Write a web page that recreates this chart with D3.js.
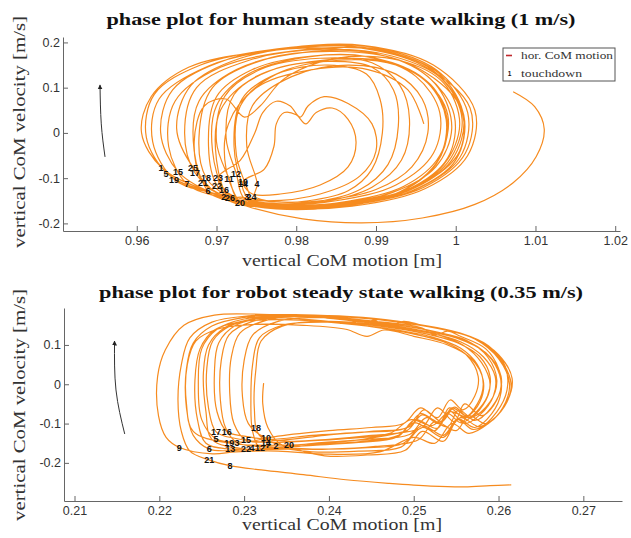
<!DOCTYPE html>
<html><head><meta charset="utf-8">
<script src="https://cdn.jsdelivr.net/npm/d3@7"></script>
<style>body{margin:0;background:#fff}svg{display:block}</style>
</head><body><svg id="c" width="631" height="538"></svg>
<script>
const humanTitle = "phase plot for human steady state walking (1 m/s)";
const robotTitle = "phase plot for robot steady state walking (0.35 m/s)";
const xLabelText = "vertical CoM motion [m]";
const yLabelText = "vertical CoM velocity [m/s]";
const legendLabels = ["hor. CoM motion", "touchdown"];

const humanXTicks = [0.96, 0.97, 0.98, 0.99, 1, 1.01, 1.02];
const humanYTicks = [-0.2, -0.1, 0, 0.1, 0.2];
const robotXTicks = [0.21, 0.22, 0.23, 0.24, 0.25, 0.26, 0.27];
const robotYTicks = [-0.2, -0.1, 0, 0.1];

// human trajectory: [vertical CoM position (m), vertical CoM velocity (m/s)]
const humanTrajectory = [
 [1.0072,0.091],[1.0099,0.058],[1.0111,0.008],[1.0101,-0.052],[1.0072,-0.110],[1.0024,-0.158],[0.9958,-0.188],[0.9882,-0.199],[0.9808,-0.190],[0.9745,-0.166],[0.9690,-0.130],
 [0.9632,-0.078],[0.9606,0.000],[0.9618,0.080],[0.9665,0.145],[0.9750,0.178],[0.9850,0.186],[0.9945,0.150],[1.0005,0.060],[1.0005,-0.040],[0.9955,-0.115],[0.9860,-0.155],[0.9760,-0.158],[0.9690,-0.130],
 [0.9640,-0.092],[0.9612,-0.010],[0.9622,0.085],[0.9680,0.150],[0.9775,0.185],[0.9870,0.190],[0.9960,0.148],[1.0018,0.055],[1.0012,-0.045],[0.9960,-0.120],[0.9865,-0.160],[0.9765,-0.163],[0.9700,-0.135],
 [0.9648,-0.104],[0.9620,-0.020],[0.9628,0.075],[0.9690,0.148],[0.9790,0.188],[0.9885,0.193],[0.9972,0.150],[1.0024,0.050],[1.0015,-0.050],[0.9962,-0.123],[0.9870,-0.162],[0.9770,-0.165],[0.9705,-0.140],
 [0.9652,-0.086],[0.9630,0.000],[0.9645,0.095],[0.9710,0.160],[0.9810,0.192],[0.9900,0.188],[0.9975,0.140],[1.0015,0.045],[1.0005,-0.055],[0.9950,-0.125],[0.9860,-0.160],[0.9765,-0.162],[0.9700,-0.140],
 [0.9663,-0.113],[0.9640,-0.030],[0.9648,0.070],[0.9705,0.145],[0.9800,0.182],[0.9895,0.185],[0.9970,0.140],[1.0010,0.040],[1.0000,-0.060],[0.9945,-0.128],[0.9855,-0.162],[0.9770,-0.165],[0.9715,-0.150],
 [0.9671,-0.077],[0.9650,0.010],[0.9668,0.105],[0.9730,0.165],[0.9830,0.192],[0.9915,0.180],[0.9980,0.130],[1.0010,0.035],[0.9995,-0.060],[0.9940,-0.128],[0.9850,-0.158],[0.9765,-0.160],[0.9710,-0.140],
 [0.9673,-0.088],[0.9660,0.000],[0.9675,0.100],[0.9740,0.160],[0.9835,0.185],[0.9920,0.170],[0.9982,0.120],[1.0008,0.030],[0.9990,-0.065],[0.9935,-0.130],[0.9845,-0.160],[0.9765,-0.160],[0.9712,-0.140],
 [0.9683,-0.110],[0.9672,-0.020],[0.9685,0.060],[0.9712,0.075],[0.9735,0.035],[0.9755,0.060],[0.9785,0.120],[0.9850,0.165],[0.9930,0.160],[0.9985,0.110],[1.0005,0.020],[0.9985,-0.070],[0.9930,-0.132],[0.9840,-0.160],[0.9760,-0.158],[0.9715,-0.140],
 [0.9687,-0.099],[0.9678,-0.010],[0.9695,0.100],[0.9760,0.162],[0.9850,0.180],[0.9930,0.160],[0.9978,0.100],[0.9995,0.010],[0.9975,-0.075],[0.9920,-0.132],[0.9835,-0.158],[0.9760,-0.158],[0.9718,-0.140],
 [0.9702,-0.099],[0.9730,-0.060],[0.9748,0.000],[0.9758,0.045],[0.9775,0.070],[0.9792,0.060],[0.9805,0.035],[0.9815,0.060],[0.9835,0.080],[0.9865,0.065],[0.9895,0.020],[0.9900,-0.040],[0.9880,-0.095],[0.9830,-0.135],[0.9760,-0.150],[0.9720,-0.140],
 [0.9701,-0.117],[0.9690,-0.030],[0.9700,0.080],[0.9745,0.140],[0.9820,0.170],[0.9900,0.165],[0.9960,0.120],[0.9990,0.040],[0.9980,-0.050],[0.9935,-0.118],[0.9850,-0.155],[0.9770,-0.160],[0.9705,-0.145],
 [0.9689,-0.128],[0.9672,-0.040],[0.9678,0.070],[0.9725,0.140],[0.9810,0.178],[0.9900,0.175],[0.9965,0.125],[0.9998,0.040],[0.9990,-0.055],[0.9940,-0.125],[0.9855,-0.160],[0.9775,-0.165],[0.9728,-0.150],
 [0.9716,-0.102],[0.9700,-0.020],[0.9710,0.080],[0.9755,0.140],[0.9830,0.165],[0.9895,0.155],[0.9930,0.105],[0.9942,0.030],[0.9932,-0.060],[0.9895,-0.120],[0.9835,-0.152],[0.9775,-0.158],[0.9730,-0.145],
 [0.9710,-0.126],[0.9695,-0.040],[0.9700,0.060],[0.9740,0.130],[0.9815,0.168],[0.9890,0.168],[0.9950,0.125],[0.9980,0.045],[0.9972,-0.045],[0.9925,-0.115],[0.9850,-0.150],[0.9780,-0.158],[0.9735,-0.145],
 [0.9725,-0.091],[0.9712,-0.010],[0.9722,0.085],[0.9768,0.138],[0.9840,0.158],[0.9895,0.145],[0.9922,0.095],[0.9928,0.015],[0.9915,-0.070],[0.9880,-0.125],[0.9825,-0.152],[0.9775,-0.156],[0.9740,-0.145],
 [0.9733,-0.108],[0.9760,-0.080],[0.9772,-0.030],[0.9775,0.020],[0.9785,0.045],[0.9800,0.040],[0.9812,0.020],[0.9825,0.045],[0.9845,0.055],[0.9865,0.030],[0.9875,-0.020],[0.9865,-0.075],[0.9830,-0.115],[0.9780,-0.135],[0.9745,-0.135],
 [0.9733,-0.113],[0.9722,-0.030],[0.9732,0.075],[0.9775,0.130],[0.9840,0.150],[0.9888,0.130],[0.9905,0.075],[0.9908,0.000],[0.9895,-0.080],[0.9865,-0.128],[0.9815,-0.150],[0.9775,-0.152],[0.9748,-0.140],
 [0.9751,-0.113],[0.9738,-0.030],[0.9745,0.060],[0.9795,0.125],[0.9865,0.150],[0.9925,0.130],[0.9958,0.075],[0.9965,0.000],[0.9945,-0.075],[0.9900,-0.125],[0.9830,-0.150],[0.9770,-0.152],[0.9730,-0.142],
 [0.9716,-0.144],[0.9700,-0.060],[0.9705,0.050],[0.9750,0.125],[0.9830,0.160],[0.9910,0.158],[0.9965,0.110],[0.9988,0.030],[0.9978,-0.060],[0.9930,-0.130],[0.9850,-0.162],[0.9780,-0.165],[0.9742,-0.150],
 [0.9742,-0.141],[0.9725,-0.050],[0.9730,0.060],[0.9775,0.130],[0.9850,0.160],[0.9925,0.150],[0.9972,0.100],[0.9990,0.015],[0.9975,-0.070],[0.9925,-0.135],[0.9845,-0.165],[0.9775,-0.168],[0.9735,-0.158],
 [0.9730,-0.155],[0.9712,-0.080],[0.9715,0.020],[0.9750,0.100],[0.9820,0.140],[0.9890,0.140],[0.9940,0.095],[0.9960,0.020]
];

const humanTouchdowns = [
 ["1",0.96305,-0.0773],["5",0.96367,-0.0906],["15",0.96518,-0.0862],["19",0.96468,-0.1039],
 ["25",0.96706,-0.0773],["17",0.96731,-0.0884],["7",0.96631,-0.1127],["18",0.96869,-0.0994],
 ["21",0.96832,-0.1105],["23",0.97020,-0.0994],["11",0.97158,-0.1017],["12",0.97246,-0.0906],
 ["22",0.97007,-0.1171],["6",0.96894,-0.1282],["16",0.97095,-0.1260],["10",0.97333,-0.1083],
 ["14",0.97333,-0.1127],["4",0.97509,-0.1127],["2",0.97090,-0.1420],["26",0.97170,-0.1436],
 ["3",0.97380,-0.1414],["24",0.97440,-0.1414],["20",0.97296,-0.1547]
];

// robot trajectory: [vertical CoM position (m), vertical CoM velocity (m/s)]
const robotTrajectory = [
 [0.2615,-0.256],[0.2590,-0.258],[0.2560,-0.261],[0.2520,-0.259],[0.2470,-0.252],[0.2420,-0.243],[0.2370,-0.230],[0.2320,-0.218],[0.2283,-0.207],[0.2259,-0.193],[0.2236,-0.170],[0.2226,-0.120],[0.2222,-0.040],[0.2226,0.050],[0.2236,0.118],[0.2262,0.158],[0.2305,0.174],[0.2365,0.176],[0.2430,0.166],[0.2480,0.152],[0.2525,0.134],[0.2562,0.112],[0.2587,0.070],[0.2598,0.010],[0.2590,-0.045],[0.2567,-0.085],[0.2542,-0.070],[0.2522,-0.105],[0.2497,-0.090],[0.2472,-0.125],[0.2422,-0.138],[0.2372,-0.145],[0.2330,-0.148],
 [0.2290,-0.138],[0.2267,-0.121],[0.2258,-0.060],[0.2256,0.040],[0.2263,0.110],[0.2285,0.150],[0.2320,0.168],[0.2380,0.164],[0.2440,0.150],[0.2495,0.130],[0.2535,0.108],[0.2562,0.075],[0.2576,0.020],[0.2572,-0.030],[0.2558,-0.065],[0.2543,-0.040],[0.2528,-0.085],[0.2508,-0.060],[0.2488,-0.100],[0.2450,-0.110],[0.2400,-0.118],[0.2340,-0.132],
 [0.2300,-0.147],[0.2267,-0.139],[0.2250,-0.090],[0.2246,0.000],[0.2250,0.090],[0.2268,0.140],[0.2300,0.166],[0.2360,0.174],[0.2420,0.168],[0.2438,0.152],[0.2455,0.164],[0.2490,0.155],[0.2535,0.140],[0.2572,0.115],[0.2600,0.065],[0.2613,0.000],[0.2605,-0.060],[0.2588,-0.100],[0.2565,-0.125],[0.2545,-0.100],[0.2525,-0.150],[0.2500,-0.135],[0.2460,-0.172],[0.2400,-0.178],[0.2340,-0.170],
 [0.2290,-0.172],[0.2263,-0.177],[0.2224,-0.161],[0.2208,-0.135],[0.2199,-0.080],[0.2198,0.020],[0.2207,0.087],[0.2229,0.150],[0.2265,0.176],[0.2320,0.178],[0.2380,0.172],[0.2440,0.158],[0.2500,0.140],[0.2550,0.118],[0.2585,0.080],[0.2603,0.020],[0.2598,-0.040],[0.2580,-0.080],[0.2560,-0.050],[0.2548,-0.095],[0.2528,-0.060],[0.2510,-0.110],[0.2480,-0.125],[0.2440,-0.140],[0.2390,-0.150],[0.2345,-0.155],
 [0.2283,-0.150],[0.2240,-0.120],[0.2232,-0.050],[0.2233,0.050],[0.2243,0.110],[0.2268,0.140],[0.2310,0.152],[0.2370,0.150],[0.2420,0.140],[0.2445,0.122],[0.2465,0.138],[0.2500,0.122],[0.2540,0.100],[0.2568,0.065],[0.2582,0.010],[0.2578,-0.045],[0.2563,-0.080],[0.2545,-0.060],[0.2532,-0.098],[0.2508,-0.075],[0.2490,-0.112],[0.2440,-0.122],[0.2380,-0.130],[0.2330,-0.140],
 [0.2300,-0.132],[0.2280,-0.121],[0.2268,-0.070],[0.2265,0.030],[0.2270,0.105],[0.2290,0.150],[0.2330,0.172],[0.2390,0.174],[0.2450,0.166],[0.2470,0.148],[0.2488,0.160],[0.2510,0.150],[0.2555,0.130],[0.2588,0.098],[0.2608,0.045],[0.2610,-0.015],[0.2598,-0.070],[0.2578,-0.108],[0.2555,-0.085],[0.2535,-0.135],[0.2510,-0.110],[0.2485,-0.160],[0.2435,-0.170],[0.2380,-0.172],[0.2335,-0.160],
 [0.2292,-0.149],[0.2278,-0.110],[0.2272,-0.040],[0.2273,0.060],[0.2282,0.125],[0.2310,0.160],[0.2360,0.172],[0.2420,0.165],[0.2480,0.148],[0.2525,0.128],[0.2558,0.100],[0.2580,0.055],[0.2590,0.000],[0.2582,-0.052],[0.2565,-0.085],[0.2548,-0.058],[0.2533,-0.095],[0.2512,-0.065],[0.2495,-0.108],[0.2450,-0.120],[0.2395,-0.130],[0.2345,-0.142],
 [0.2302,-0.142],[0.2288,-0.100],[0.2283,-0.020],[0.2285,0.070],[0.2295,0.130],[0.2325,0.162],[0.2380,0.175],[0.2440,0.170],[0.2495,0.156],[0.2545,0.136],[0.2582,0.105],[0.2605,0.055],[0.2615,-0.005],[0.2605,-0.062],[0.2585,-0.100],[0.2565,-0.080],[0.2550,-0.118],[0.2525,-0.095],[0.2505,-0.142],[0.2455,-0.158],[0.2400,-0.165],[0.2350,-0.165],
 [0.2284,-0.165],[0.2255,-0.150],[0.2245,-0.090],[0.2242,0.010],[0.2248,0.090],[0.2265,0.138],[0.2300,0.160],[0.2355,0.164],[0.2415,0.155],[0.2475,0.140],[0.2522,0.120],[0.2555,0.092],[0.2575,0.050],[0.2582,0.000],[0.2575,-0.050],[0.2560,-0.085],[0.2542,-0.060],[0.2530,-0.100],[0.2510,-0.078],[0.2492,-0.118],[0.2450,-0.130],[0.2400,-0.140],[0.2355,-0.145],
 [0.2326,-0.137],[0.2305,-0.100],[0.2298,-0.030],[0.2300,0.060],[0.2310,0.125],[0.2340,0.160],[0.2395,0.170],[0.2455,0.160],[0.2510,0.143],[0.2525,0.125],[0.2540,0.135],[0.2555,0.122],[0.2585,0.090],[0.2600,0.040],[0.2603,-0.020],[0.2592,-0.075],[0.2572,-0.110],[0.2552,-0.088],[0.2535,-0.130],[0.2510,-0.105],[0.2488,-0.150],[0.2440,-0.162],[0.2390,-0.165],[0.2345,-0.162],
 [0.2302,-0.165],[0.2262,-0.140],[0.2255,-0.070],[0.2252,0.030],[0.2258,0.100],[0.2278,0.145],[0.2315,0.168],[0.2370,0.172],[0.2430,0.163],[0.2490,0.148],[0.2540,0.126],[0.2575,0.096],[0.2596,0.050],[0.2603,-0.005],[0.2592,-0.058],[0.2572,-0.092],[0.2553,-0.065],[0.2540,-0.108],[0.2515,-0.085],[0.2495,-0.128],[0.2445,-0.140],[0.2395,-0.148],[0.2360,-0.155],
 [0.2319,-0.162],[0.2310,-0.120],[0.2308,-0.040],[0.2310,0.050],[0.2318,0.118],[0.2345,0.150],[0.2400,0.158],[0.2460,0.148],[0.2515,0.128],[0.2552,0.105],[0.2578,0.070],[0.2590,0.020],[0.2587,-0.030],[0.2573,-0.072],[0.2556,-0.098],[0.2540,-0.075],[0.2525,-0.118],[0.2500,-0.098],[0.2480,-0.135],[0.2435,-0.148],[0.2385,-0.155],[0.2340,-0.160],
 [0.2290,-0.168],[0.2259,-0.165],[0.2240,-0.130],[0.2232,-0.060],[0.2232,0.040],[0.2240,0.105],[0.2262,0.148],[0.2300,0.170],[0.2355,0.177],[0.2415,0.172],[0.2475,0.160],[0.2528,0.142],[0.2570,0.118],[0.2600,0.075],[0.2616,0.015],[0.2610,-0.045],[0.2592,-0.092],[0.2570,-0.115],[0.2552,-0.090],[0.2535,-0.145],[0.2510,-0.120],[0.2490,-0.168],[0.2445,-0.180],[0.2395,-0.182],[0.2353,-0.160],
 [0.2318,-0.130],[0.2312,-0.060],[0.2314,0.040],[0.2320,0.110],[0.2345,0.148],[0.2400,0.160],[0.2460,0.150],[0.2515,0.132],[0.2555,0.108],[0.2582,0.070],[0.2596,0.020],[0.2594,-0.030],[0.2578,-0.078],[0.2560,-0.100],[0.2542,-0.068],[0.2528,-0.112],[0.2502,-0.090],[0.2482,-0.130],[0.2440,-0.145],[0.2390,-0.152],[0.2345,-0.155],
 [0.2328,-0.110],[0.2322,-0.050],[0.2323,0.003]
];

const robotTouchdowns = [
 ["17",0.22669,-0.1206],["16",0.22795,-0.1206],["5",0.22669,-0.1392],["18",0.23140,-0.1111],
 ["19",0.22825,-0.1501],["3",0.22916,-0.1494],["15",0.23022,-0.1417],["10",0.23258,-0.1374],
 ["14",0.23258,-0.1494],["2",0.23376,-0.1570],["20",0.23529,-0.1545],["13",0.22837,-0.1654],
 ["22",0.23022,-0.1654],["4",0.23093,-0.1621],["12",0.23188,-0.1621],["7",0.23282,-0.1545],
 ["6",0.22590,-0.1654],["9",0.22236,-0.1613],["21",0.22590,-0.1926],["8",0.22834,-0.2071]
];

const humanArrow = [[0.95602,-0.053],[0.95555,0.020],[0.95539,0.106]];
const robotArrow = [[0.21592,-0.1265],[0.21489,-0.0145],[0.21472,0.1100]];

const panels = [
 {title: humanTitle, titleY: 25, titleLen: 469, left: 63, right: 620, top: 37, bottom: 231,
  xDomain: [0.95075, 1.0206], yDomain: [-0.2168, 0.212], xTicks: humanXTicks, yTicks: humanYTicks,
  traj: humanTrajectory, tds: humanTouchdowns, arrow: humanArrow, xLabY: 266, yLabY: 132, legend: true},
 {title: robotTitle, titleY: 298, titleLen: 484, left: 64, right: 622, top: 308, bottom: 501,
  xDomain: [0.20876, 0.27456], yDomain: [-0.297, 0.194], xTicks: robotXTicks, yTicks: robotYTicks,
  traj: robotTrajectory, tds: robotTouchdowns, arrow: robotArrow, xLabY: 530, yLabY: 405, legend: false}
];

const svg = d3.select("#c");
const serif = "'Liberation Serif', 'DejaVu Serif', serif";
const sans = "'Liberation Sans', Arial, sans-serif";

svg.append("defs").append("marker").attr("id","ah").attr("viewBox","0 0 10 10")
  .attr("refX",9).attr("refY",5).attr("markerWidth",5).attr("markerHeight",9)
  .attr("markerUnits","userSpaceOnUse").attr("orient","auto")
  .append("path").attr("d","M0,0L10,5L0,10Z").attr("fill","#222");

panels.forEach(p => {
  const x = d3.scaleLinear().domain(p.xDomain).range([p.left, p.right]);
  const y = d3.scaleLinear().domain(p.yDomain).range([p.bottom, p.top]);
  const g = svg.append("g");
  const fmt = d => String(d);

  const xa = g.append("g").attr("transform", `translate(0,${p.bottom})`)
    .call(d3.axisBottom(x).tickValues(p.xTicks).tickFormat(fmt).tickSizeInner(-5).tickSizeOuter(0).tickPadding(5));
  const ya = g.append("g").attr("transform", `translate(${p.left},0)`)
    .call(d3.axisLeft(y).tickValues(p.yTicks).tickFormat(fmt).tickSizeInner(-5).tickSizeOuter(0).tickPadding(3));
  [xa, ya].forEach(a => {
    a.select(".domain").attr("stroke", "#666");
    a.selectAll(".tick line").attr("stroke", "#666");
    a.selectAll(".tick text").attr("font-family", sans).attr("font-size", 12.5).attr("fill", "#333");
  });

  g.append("path").datum(p.traj)
    .attr("d", d3.line().x(d => x(d[0])).y(d => y(d[1])).curve(d3.curveCatmullRom.alpha(0.5)))
    .attr("fill", "none").attr("stroke", "#f68b1f").attr("stroke-width", 1.2).attr("stroke-linejoin","round");

  g.append("path").datum(p.arrow)
    .attr("d", d3.line().x(d => x(d[0])).y(d => y(d[1])).curve(d3.curveNatural))
    .attr("fill", "none").attr("stroke", "#333").attr("stroke-width", 1).attr("marker-end", "url(#ah)");

  g.selectAll("text.td").data(p.tds).join("text").attr("class","td")
    .attr("x", d => x(d[1])).attr("y", d => y(d[2]))
    .attr("text-anchor","middle").attr("dominant-baseline","central")
    .attr("font-family", sans).attr("font-weight","bold").attr("font-size", 9).attr("fill","#111")
    .text(d => d[0]);

  g.append("text").attr("x", 341).attr("y", p.titleY).attr("text-anchor","middle")
    .attr("font-family", serif).attr("font-weight","bold").attr("font-size", 17)
    .attr("textLength", p.titleLen).attr("lengthAdjust","spacingAndGlyphs").attr("fill","#111").text(p.title);

  g.append("text").attr("x", 342).attr("y", p.xLabY).attr("text-anchor","middle")
    .attr("font-family", serif).attr("font-size", 16).attr("fill","#333")
    .attr("textLength", 200).attr("lengthAdjust","spacingAndGlyphs").text(xLabelText);

  g.append("text").attr("transform", `translate(25,${p.yLabY}) rotate(-90)`).attr("text-anchor","middle")
    .attr("font-family", serif).attr("font-size", 16).attr("fill","#333")
    .attr("textLength", 232).attr("lengthAdjust","spacingAndGlyphs").text(yLabelText);

  if (p.legend) {
    const lg = g.append("g");
    lg.append("rect").attr("x", 503).attr("y", 48).attr("width", 112).attr("height", 33)
      .attr("fill","#fff").attr("stroke","#555").attr("stroke-width",1);
    lg.append("line").attr("x1",506).attr("x2",512).attr("y1",55.5).attr("y2",55.5)
      .attr("stroke","#c0282d").attr("stroke-width",1.6);
    lg.append("text").attr("x",509.5).attr("y",73.5).attr("text-anchor","middle").attr("dominant-baseline","central")
      .attr("font-family",sans).attr("font-weight","bold").attr("font-size",6.5).attr("fill","#111").text("1");
    lg.selectAll("text.lt").data(legendLabels).join("text").attr("class","lt")
      .attr("x", 521).attr("y", (d,i) => 59 + i*17.5)
      .attr("font-family", serif).attr("font-size", 11).attr("fill","#333")
      .attr("textLength", (d,i) => i === 0 ? 92 : 61).attr("lengthAdjust","spacingAndGlyphs")
      .text(d => d);
  }
});
</script></body></html>
